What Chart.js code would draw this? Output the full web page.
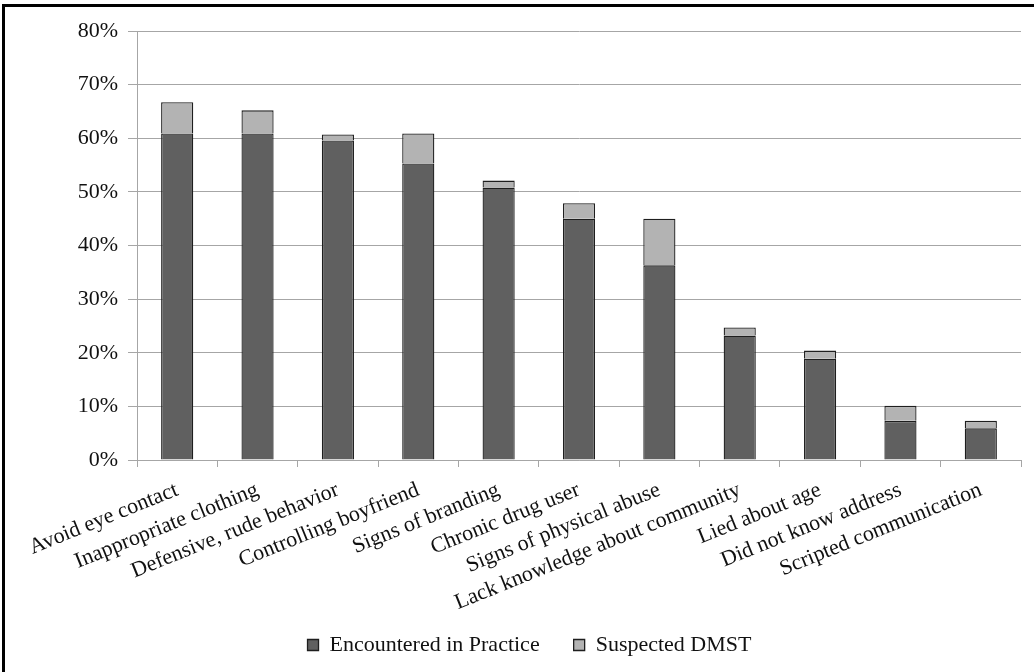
<!DOCTYPE html>
<html>
<head>
<meta charset="utf-8">
<script src="https://cdn.jsdelivr.net/npm/chart.js@4.4.1/dist/chart.umd.min.js"></script>
<style>
  html, body { margin: 0; padding: 0; background: #fff; overflow: hidden; }
  #wrap { position: relative; width: 1034px; height: 672px; overflow: hidden; }
  #frame {
    position: absolute; left: 2px; top: 4px; width: 1060px; height: 700px;
    border: 3px solid #000; box-sizing: border-box; pointer-events: none;
  }
  canvas { position: absolute; left: 0; top: 0; }
</style>
</head>
<body>
<div id="wrap">
  <canvas id="chart" width="1034" height="672"></canvas>
  <div id="frame"></div>
</div>
<script>
// Indicators, in order of how often they were encountered
const categories = [
  'Avoid eye contact',
  'Inappropriate clothing',
  'Defensive, rude behavior',
  'Controlling boyfriend',
  'Signs of branding',
  'Chronic drug user',
  'Signs of physical abuse',
  'Lack knowledge about community',
  'Lied about age',
  'Did not know address',
  'Scripted communication'
];

// Percent of respondents
const encountered = [60.9, 60.9, 59.6, 55.3, 50.8, 45.0, 36.3, 23.2, 18.9, 7.3, 5.9];
const suspected   = [5.8, 4.3, 1.1, 5.6, 1.3, 2.9, 8.7, 1.5, 1.5, 2.8, 1.4];

const seriesNames = ['Encountered in Practice', 'Suspected DMST'];

const yMin = 0, yMax = 80, yStep = 10;

const FONT = 'Liberation Serif, Times New Roman, serif';
const GRID = '#a6a6a6';

// Nudge the legend row: it sits a little higher and right of the default slot
const legendNudge = {
  id: 'legendNudge',
  afterLayout(chart) {
    const lg = chart.legend;
    if (!lg) return;
    const dx = 19, dy = -20;
    lg.left += dx; lg.right += dx;
    lg.top += dy; lg.bottom += dy;
  }
};

new Chart(document.getElementById('chart'), {
  type: 'bar',
  data: {
    labels: categories,
    datasets: [
      {
        label: seriesNames[0],
        data: encountered,
        backgroundColor: '#606060',
        borderColor: '#1e1e1e',
        borderWidth: 1.3,
        barPercentage: 0.4,
        categoryPercentage: 1
      },
      {
        label: seriesNames[1],
        data: suspected,
        backgroundColor: '#b3b3b3',
        borderColor: '#1e1e1e',
        borderWidth: 1.3,
        barPercentage: 0.4,
        categoryPercentage: 1
      }
    ]
  },
  plugins: [legendNudge],
  options: {
    responsive: false,
    animation: false,
    devicePixelRatio: 1,
    layout: { padding: { left: 0, top: 31, right: 13, bottom: -14 } },
    plugins: {
      tooltip: { enabled: false },
      legend: {
        position: 'bottom',
        labels: {
          font: { family: FONT, size: 22 },
          color: '#111',
          boxWidth: 11,
          boxHeight: 11,
          padding: 34
        }
      }
    },
    scales: {
      x: {
        stacked: true,
        offset: true,
        grid: {
          display: true,
          offset: true,
          drawOnChartArea: false,
          drawTicks: true,
          tickLength: 7,
          color: GRID,
          lineWidth: 1
        },
        border: { display: true, color: GRID, width: 1 },
        ticks: {
          autoSkip: false,
          minRotation: 22,
          maxRotation: 22,
          padding: 10,
          color: '#111',
          font: { family: FONT, size: 22 }
        },
        afterFit(scale) { scale.height = 160; }
      },
      y: {
        stacked: true,
        min: yMin,
        max: yMax,
        grid: {
          color: GRID,
          lineWidth: 1,
          drawTicks: true,
          tickLength: 9
        },
        border: { display: true, color: GRID, width: 1 },
        ticks: {
          stepSize: yStep,
          padding: 10,
          color: '#111',
          font: { family: FONT, size: 22 },
          callback: v => v + '%'
        },
        afterFit(scale) { scale.width = 137; }
      }
    }
  }
});
</script>
</body>
</html>
